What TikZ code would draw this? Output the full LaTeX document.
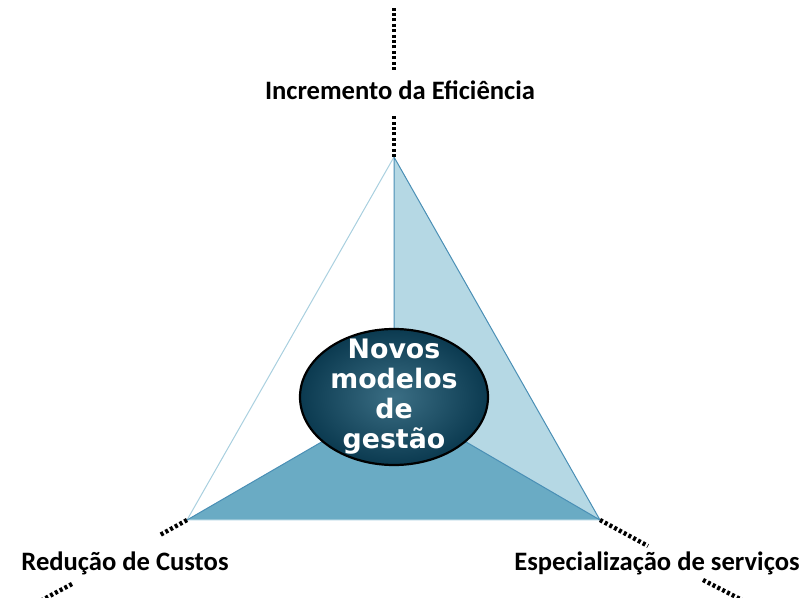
\documentclass[tikz,border=0pt]{standalone}
\usepackage{fontspec}
\setmainfont{Carlito}
\newfontfamily\hubfont{DejaVu Sans}
\usepackage{tikz}
\usetikzlibrary{shapes.geometric}

\definecolor{faceLight}{HTML}{B5D8E4}
\definecolor{faceMid}{HTML}{6AABC4}
\definecolor{edgeLight}{HTML}{A9D0DF}
\definecolor{edgeMid}{HTML}{4A8FB5}
\definecolor{hubInner}{HTML}{3B6E84}
\definecolor{hubOuter}{HTML}{0B3A50}

\begin{document}
\begin{tikzpicture}[x=0.5pt,y=-0.5pt,
      axis/.style={line width=2.2pt,dash pattern=on 1.5pt off 1.2pt,color=black},
      label/.style={font=\fontsize{13.3}{16}\selectfont\bfseries,inner sep=0pt},
      hub/.style={ellipse,draw=black,line width=1.1pt,minimum width=94pt,minimum height=68pt,
        inner sep=0pt,shade,inner color=hubInner,outer color=hubOuter}]
    \tikzstyle{hubtext} = [font=\hubfont\fontsize{13.4}{15}\selectfont\bfseries,text=white,align=center,inner sep=0pt]
    \useasboundingbox (0,0) rectangle (810,598);
    % corners of the triangle
    \coordinate (top) at (394,157);
    \coordinate (left) at (187,520);
    \coordinate (right) at (600,520);
    \coordinate (mid) at (394,400);
    % faces
    \fill[faceLight] (top) -- (mid) -- (right) -- cycle;
    \fill[faceMid] (left) -- (mid) -- (right) -- cycle;
    \draw[edgeLight,line width=0.5pt] (top) -- (left) -- (right);
    \draw[edgeMid,line width=0.5pt] (left) -- (mid);
    \draw[edgeMid,line width=0.5pt] (top) -- (right) -- (mid) -- (top);
    % labels
    \node[label] (eff) at (400,90) {Incremento da Eficiência};
    \node[label] (cost) at (125,563) {Redução de Custos};
    \node[label] (serv) at (657,563) {Especialização de serviços};
    % dotted axes
    \coordinate (effEnd) at (394,8);
    \coordinate (costEnd) at (42,600);
    \coordinate (servEnd) at (742,600);
    \coordinate (effIn) at (394,70);
    \coordinate (effOut) at (394,114);
    \coordinate (costIn) at (160,535);
    \coordinate (costOut) at (72,584);
    \coordinate (servIn) at (648,546);
    \coordinate (servOut) at (703,580);
    \draw[axis] (top) -- (effOut);
    \draw[axis] (effIn) -- (effEnd);
    \draw[axis] (left) -- (costIn);
    \draw[axis] (costOut) -- (costEnd);
    \draw[axis] (right) -- (servIn);
    \draw[axis] (servOut) -- (servEnd);
    % centre
    \node[hub] (hub) at (394,397) {};
    \node[hubtext] (hubLabel) at (hub.center) {Novos\\modelos\\de\\gestão};
\end{tikzpicture}
\end{document}
